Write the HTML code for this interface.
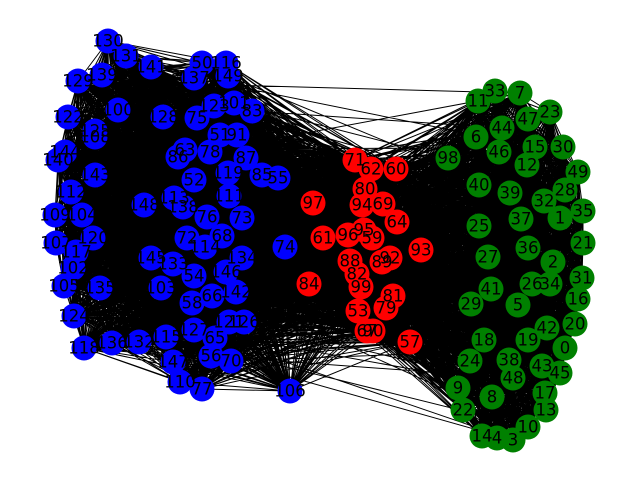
<!DOCTYPE html>
<html><head><meta charset="utf-8"><style>
html,body{margin:0;padding:0;background:#fff;width:640px;height:480px;overflow:hidden}
svg text{font-family:"DejaVu Sans","Liberation Sans",sans-serif;font-size:16.5px;text-anchor:middle;dominant-baseline:central;fill:#000}
</style></head><body>
<svg id="g" width="640" height="480" viewBox="0 0 640 480">
<g id="edges"></g>
<g id="nodes"></g>
</svg>
<script>
const blueIds=[130,131,141,50,116,149,137,129,139,100,128,75,123,101,83,122,125,108,144,140,143,63,86,78,51,91,87,85,55,52,119,111,112,148,113,138,76,73,109,104,120,107,117,102,105,135,72,114,68,74,145,133,54,134,146,142,103,58,66,124,127,121,126,65,118,136,132,115,56,70,147,110,77,106];
const blueX=[108,126,151,202,226,228,194,78,102,118,163,197,214,234,252,68,95,95,65,58,95,185,178,210,220,237,246,262,278,194,228,229,71,144,174,183,207,242,55,82,93,56,76,73,64,100,187,205,222,285,151,173,194,242,226,236,161,192,212,74,194,229,244,215,84,112,139,166,211,231,173,180,202,290];
const blueY=[41,56,67,63,63,76,78,81,75,110,117,118,106,103,111,117,131,137,152,160,175,150,157,152,135,135,158,175,178,180,173,196,192,205,198,207,217,218,215,215,238,243,252,268,286,288,238,247,236,247,258,264,276,258,272,292,288,303,296,316,330,322,322,338,348,343,342,337,356,361,362,382,389,391];
const redIds=[71,62,60,80,94,69,97,64,96,95,59,61,93,88,89,92,84,82,99,81,79,53,67,90,57];
const redX=[355,371,396,365,362,383,313,397,348,364,372,323,421,350,382,390,309,357,361,393,386,358,367,373,410];
const redY=[160,169,169,189,205,204,203,222,235,230,238,238,250,261,262,258,284,274,287,296,308,311,331,331,342];
const greenIds=[11,33,7,23,47,44,6,46,15,30,12,98,49,40,39,28,32,35,1,37,25,21,36,2,27,31,26,34,41,16,29,5,20,42,19,0,18,38,43,45,24,48,9,8,17,22,13,10,14,4,3];
const greenX=[478,495,520,550,528,502,476,499,535,563,527,448,578,479,510,565,544,583,560,521,479,583,528,553,488,582,532,550,491,578,471,518,575,547,528,565,484,509,542,560,470,513,458,492,545,463,546,528,482,497,513];
const greenY=[101,91,93,112,119,128,137,152,147,147,165,158,172,185,193,190,201,211,218,219,226,243,248,262,257,278,284,284,289,299,304,305,324,328,340,348,340,360,366,373,361,378,388,397,393,410,410,427,436,438,440];

const NS="http://www.w3.org/2000/svg";
const eg=document.getElementById('edges');
let d="";
function pairs(ax,ay,bx,by,step,same){
  let k=0;
  for(let i=0;i<ax.length;i++){
    for(let j=same?i+1:0;j<bx.length;j++){
      k++;
      if(k%step!==0) continue;
      d+="M"+ax[i]+" "+ay[i]+"L"+bx[j]+" "+by[j];
    }
  }
}
pairs(blueX,blueY,blueX,blueY,1,true);
pairs(greenX,greenY,greenX,greenY,1,true);
pairs(redX,redY,redX,redY,1,true);
pairs(blueX,blueY,redX,redY,1,false);
pairs(redX,redY,greenX,greenY,1,false);
pairs(blueX,blueY,greenX,greenY,45,false);
const p=document.createElementNS(NS,'path');


p.setAttribute('d',d);p.setAttribute('stroke','#000');p.setAttribute('stroke-width','1');p.setAttribute('fill','none');
eg.appendChild(p);

const ng=document.getElementById('nodes');
function drawNodes(ids,xs,ys,color){
  for(let i=0;i<ids.length;i++){
    const c=document.createElementNS(NS,'circle');
    
    
    c.setAttribute('cx',xs[i]);c.setAttribute('cy',ys[i]);c.setAttribute('r',12.5);c.setAttribute('fill',color);
    ng.appendChild(c);
  }
  for(let i=0;i<ids.length;i++){
    const t=document.createElementNS(NS,'text');
    
    
    t.setAttribute('x',xs[i]);t.setAttribute('y',ys[i]);
    t.textContent=ids[i];
    ng.appendChild(t);
  }
}
drawNodes(blueIds,blueX,blueY,'#0000ff');
drawNodes(redIds,redX,redY,'#ff0000');
drawNodes(greenIds,greenX,greenY,'#008000');
</script>
</body></html>
